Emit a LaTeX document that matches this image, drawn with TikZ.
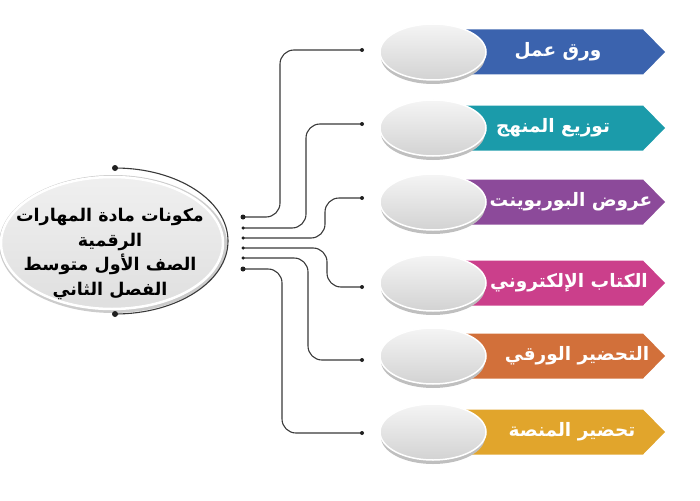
\documentclass[tikz,border=0pt]{standalone}
\usepackage{fontspec}
\TeXXeTstate=1
\newfontfamily\arabicfont[Script=Arabic]{DejaVu Sans}
\usetikzlibrary{shapes.geometric}
\definecolor{cBlue}{RGB}{59,99,174}
\definecolor{cTeal}{RGB}{27,155,170}
\definecolor{cPurple}{RGB}{140,74,154}
\definecolor{cPink}{RGB}{203,63,139}
\definecolor{cOrange}{RGB}{210,112,58}
\definecolor{cGold}{RGB}{225,165,44}
\begin{document}
\begin{tikzpicture}[x=1pt,y=-1pt,line join=round,line cap=round,
	wire/.style={draw=gray!45!black,line width=1.1pt,rounded corners=14pt},
	jdot/.style={circle,fill=gray!25!black,inner sep=0pt,minimum size=#1},
	jdot/.default=4pt,
	bub/.style={ellipse,inner sep=0pt,minimum width=106pt,minimum height=56pt,top color=gray!8,bottom color=gray!35,draw=white,line width=1.5pt},
	bubshade/.style={ellipse,inner sep=0pt,minimum width=104pt,minimum height=54pt,fill=gray!50},
	lbl/.style={font=\arabicfont\bfseries\fontsize{18.5}{22}\selectfont,text=white}]
	\useasboundingbox (0,0) rectangle (700,500);
	\node[ellipse,inner sep=0pt,minimum width=228pt,minimum height=138pt,fill=gray!40] (hubrim) at (113,244) {};
	\node[ellipse,inner sep=0pt,minimum width=222pt,minimum height=132pt,top color=gray!12,bottom color=gray!25,draw=white,line width=2.5pt] (hub) at (112,243) {};
	\node[font=\arabicfont\bfseries\fontsize{17.5}{24.5}\selectfont,align=center] (hubtxt) at (110,254)
	{\beginR مكونات مادة المهارات\endR\\ \beginR الرقمية\endR\\ \beginR الصف الأول متوسط\endR\\ \beginR الفصل الثاني\endR};
	\coordinate (arctop) at (115,168);
	\coordinate (arcbot) at (115,314);
	\draw[gray!45!black,line width=1.1pt] (arctop) arc[start angle=90,end angle=-90,x radius=113pt,y radius=73pt];
	\node[jdot=6pt] at (arctop) {};
	\node[jdot=6pt] at (arcbot) {};
	\foreach \yl/\xv/\yr/\s [count=\i] in {217/280/50/5pt,228/306/124/3.5pt,238/325/198/3.5pt,248/327/287/3.5pt,258/308/360/3.5pt,269/282/433/5pt}{
		\coordinate (s\i) at (243,\yl);
		\coordinate (e\i) at (362,\yr);
		\draw[wire] (s\i) -- (\xv,\yl) -- (\xv,\yr) -- (e\i);
		\node[jdot=\s] at (s\i) {};
		\node[jdot=4pt] at (e\i) {};
	}
	\foreach \yc/\c/\xt/\t [count=\i] in {52/cBlue/558/{ورق عمل},128/cTeal/553/{توزيع المنهج},202/cPurple/571/{عروض البوربوينت},283/cPink/569/{الكتاب الإلكتروني},356/cOrange/577/{التحضير الورقي},432/cGold/572/{تحضير المنصة}}{
		\fill[\c] (455,\yc-22.5) -- (643,\yc-22.5) -- (665,\yc) -- (643,\yc+22.5) -- (455,\yc+22.5) -- cycle;
		\node[bubshade] (w\i) at (433,\yc+5) {};
		\node[bub] (o\i) at (433,\yc) {};
		\node[lbl] (t\i) at (\xt,\yc) {\beginR\t\endR};
	}
\end{tikzpicture}
\end{document}
